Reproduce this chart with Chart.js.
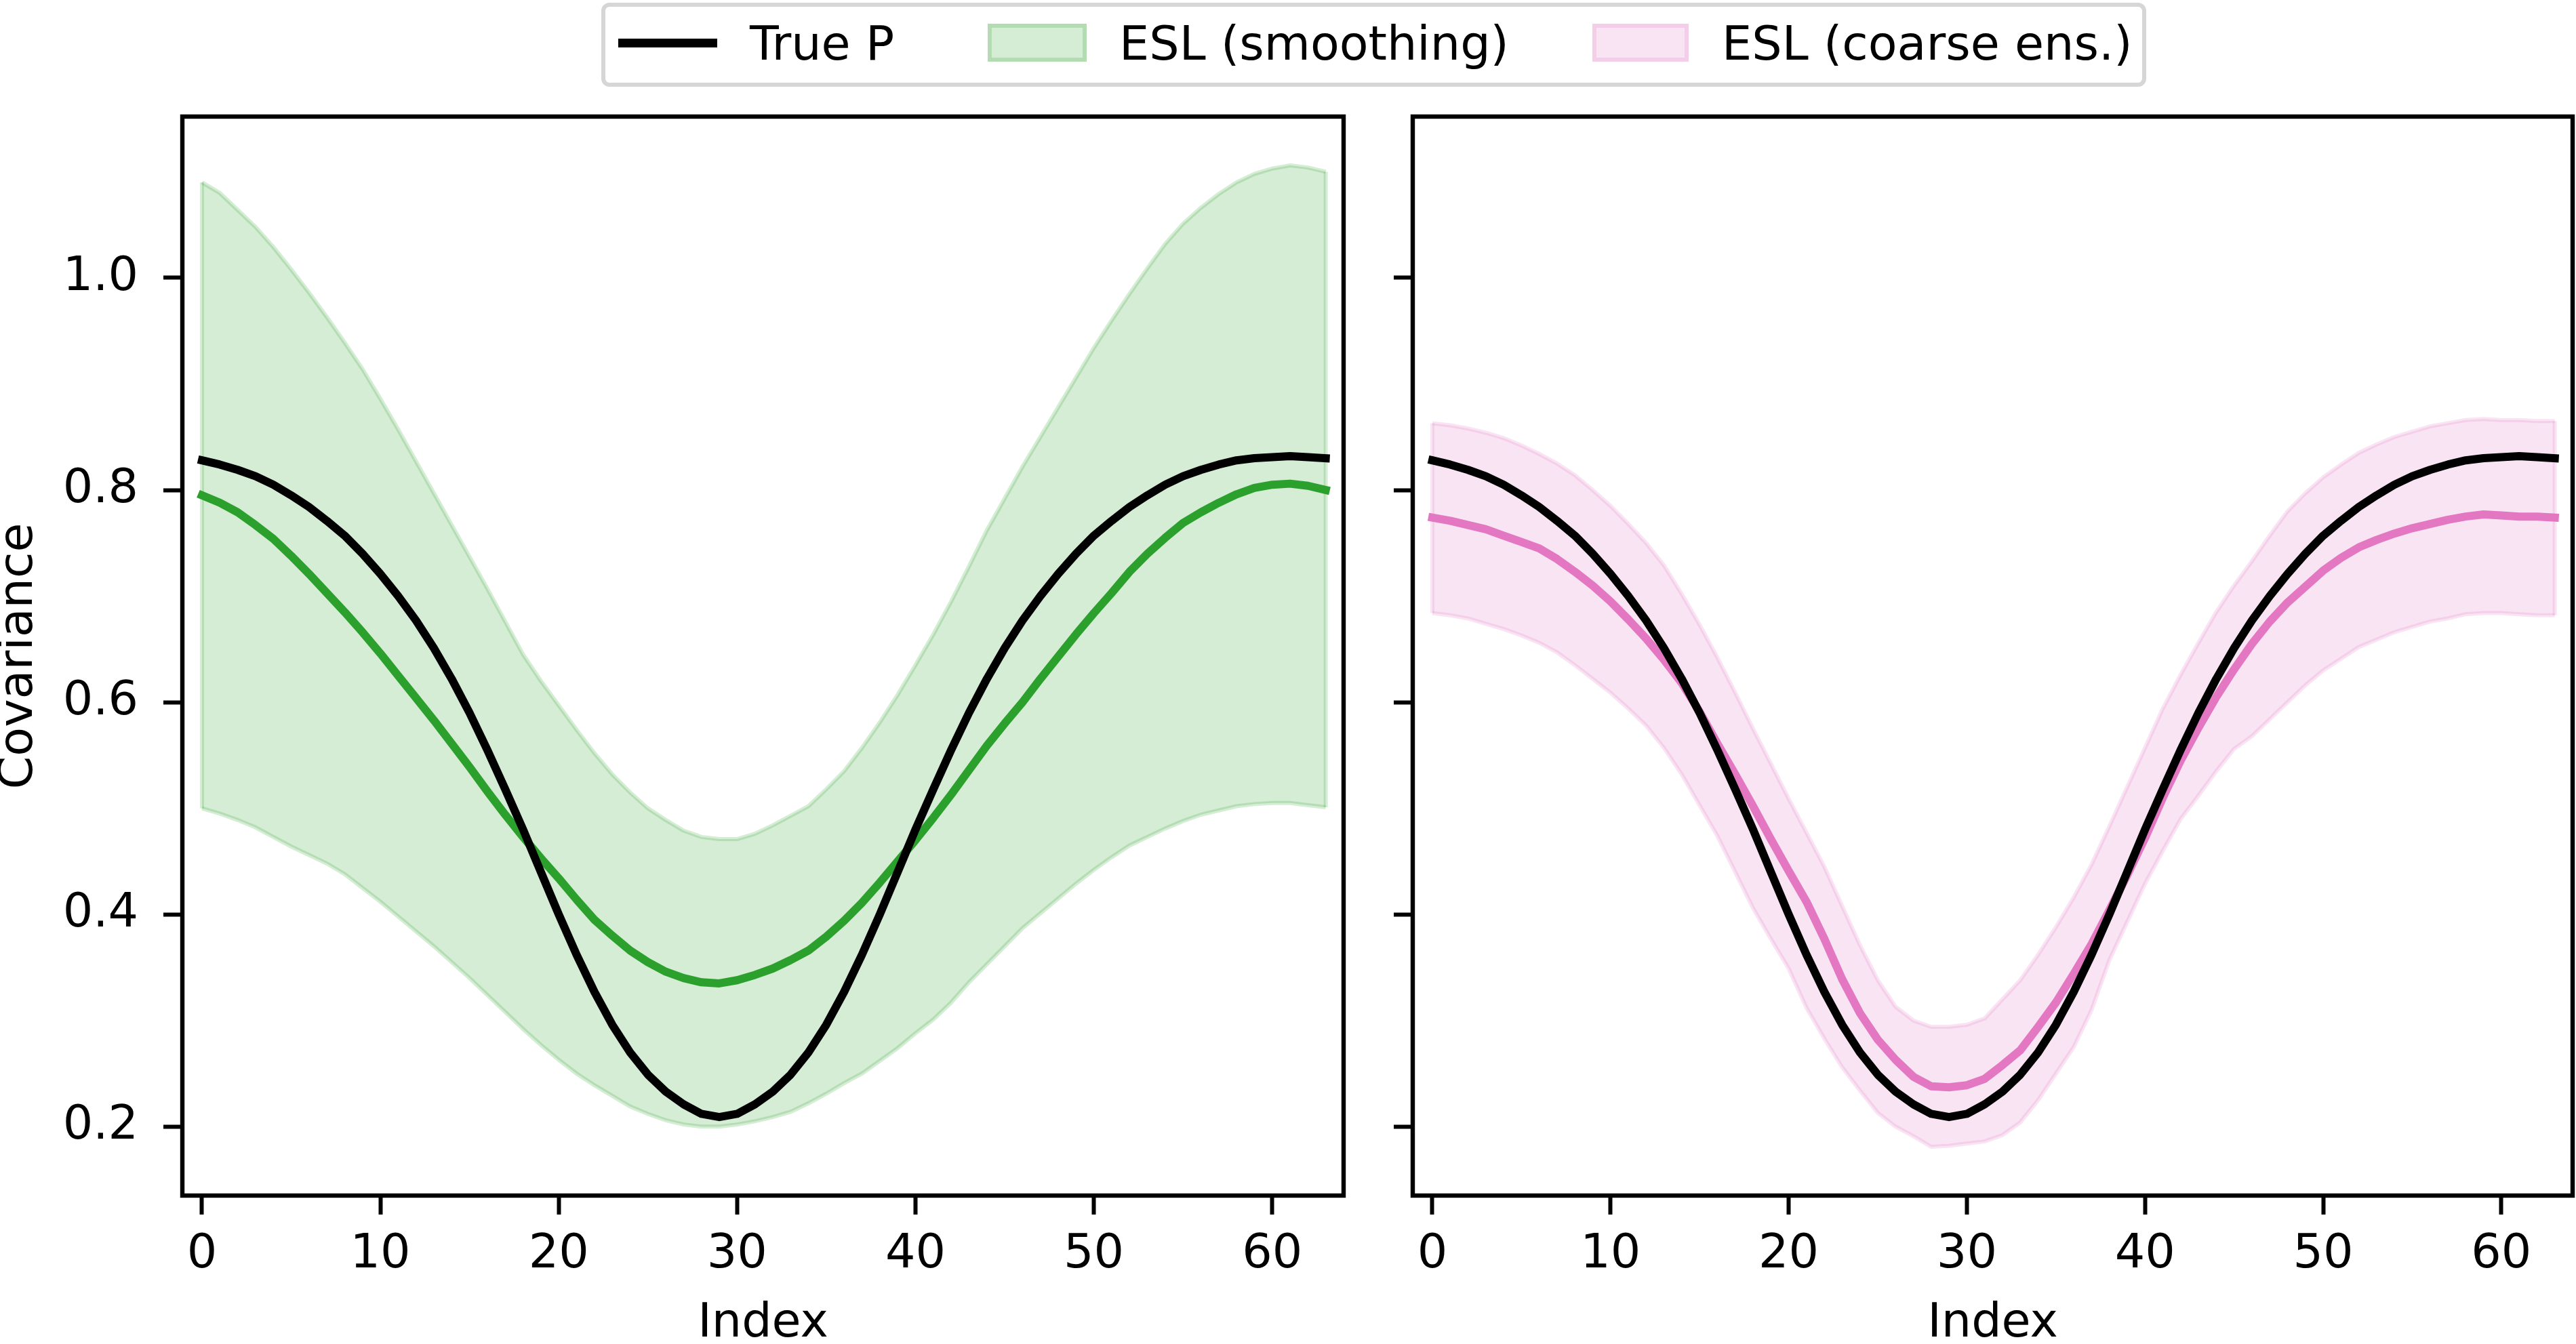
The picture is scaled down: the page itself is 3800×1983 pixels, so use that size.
<!DOCTYPE html>
<html>
<head>
<meta charset="utf-8">
<script src="https://cdn.jsdelivr.net/npm/chart.js@4.4.1/dist/chart.umd.min.js"></script>
<style>
  html, body { margin: 0; padding: 0; background: #fff; }
  body { width: 3800px; height: 1983px; position: relative; overflow: hidden; font-family: 'DejaVu Sans', sans-serif; }
  canvas { position: absolute; top: 0; }
  #legend { position: absolute; left: 887px; top: 4px; width: 2279px; height: 124px; box-sizing: border-box;
            border: 6px solid #d6d6d6; border-radius: 12px; background: #fff; }
  #legend div { position: absolute; }
  #legend .txt { top: 19px; font-size: 70px; line-height: 70px; white-space: nowrap; color: #000; }
</style>
</head>
<body>
<canvas id="left" width="2000" height="1983" style="left:0"></canvas>
<canvas id="right" width="1800" height="1983" style="left:2000px"></canvas>

<div id="legend">
  <div style="left:19px; top:47px; width:146px; height:13px; background:#000"></div>
  <div class="txt" style="left:213px">True P</div>
  <div style="left:564px; top:25px; width:146px; height:56px; box-sizing:border-box; background:rgba(44,160,44,0.2); border:6px solid rgba(44,160,44,0.2)"></div>
  <div class="txt" style="left:758px">ESL (smoothing)</div>
  <div style="left:1456px; top:25px; width:142px; height:56px; box-sizing:border-box; background:rgba(227,119,194,0.2); border:6px solid rgba(227,119,194,0.2)"></div>
  <div class="txt" style="left:1647px">ESL (coarse ens.)</div>
</div>

<script>
// grid index and ticks
const idx = [0,1,2,3,4,5,6,7,8,9,10,11,12,13,14,15,16,17,18,19,20,21,22,23,24,25,26,27,28,29,30,31,
             32,33,34,35,36,37,38,39,40,41,42,43,44,45,46,47,48,49,50,51,52,53,54,55,56,57,58,59,60,61,62,63];
const xTicks = [0, 10, 20, 30, 40, 50, 60];
const yTicks = [0.2, 0.4, 0.6, 0.8, 1.0];

// true covariance row
const trueP = [0.828,0.824,0.819,0.813,0.805,0.795,0.784,0.771,0.757,0.740,0.721,0.700,0.677,0.651,0.622,0.590,
               0.555,0.518,0.480,0.440,0.400,0.362,0.327,0.296,0.270,0.249,0.233,0.221,0.212,0.209,0.212,0.221,
               0.233,0.249,0.270,0.296,0.327,0.362,0.400,0.440,0.480,0.518,0.555,0.590,0.622,0.651,0.677,0.700,
               0.721,0.740,0.757,0.771,0.784,0.795,0.805,0.813,0.819,0.824,0.828,0.830,0.831,0.832,0.831,0.830];

// ESL smoothing: mean and band
const smoothMean = [0.795,0.788,0.779,0.767,0.754,0.738,0.721,0.703,0.685,0.666,0.646,0.625,0.604,0.583,0.561,0.539,
                    0.516,0.494,0.473,0.453,0.434,0.414,0.395,0.380,0.366,0.355,0.346,0.340,0.336,0.335,0.338,0.343,
                    0.349,0.357,0.366,0.379,0.394,0.411,0.430,0.450,0.470,0.491,0.513,0.536,0.559,0.580,0.600,0.622,
                    0.643,0.664,0.684,0.703,0.723,0.740,0.755,0.769,0.779,0.788,0.796,0.802,0.805,0.806,0.804,0.800];
const smoothUpper = [1.090,1.080,1.064,1.048,1.029,1.008,0.986,0.963,0.939,0.914,0.886,0.857,0.827,0.797,0.767,0.737,
                     0.707,0.676,0.645,0.620,0.597,0.574,0.552,0.532,0.515,0.500,0.489,0.479,0.473,0.471,0.471,0.476,
                     0.484,0.493,0.502,0.518,0.535,0.557,0.581,0.607,0.635,0.664,0.695,0.728,0.762,0.792,0.822,0.850,
                     0.878,0.906,0.934,0.960,0.985,1.009,1.032,1.051,1.066,1.079,1.090,1.098,1.103,1.106,1.104,1.100];
const smoothLower = [0.500,0.495,0.489,0.482,0.473,0.464,0.456,0.448,0.438,0.425,0.412,0.398,0.384,0.370,0.355,0.340,
                     0.324,0.308,0.292,0.277,0.263,0.250,0.239,0.229,0.219,0.212,0.206,0.202,0.200,0.200,0.202,0.205,
                     0.209,0.214,0.222,0.231,0.241,0.250,0.262,0.274,0.288,0.301,0.317,0.336,0.353,0.370,0.387,0.401,
                     0.415,0.429,0.442,0.454,0.465,0.473,0.481,0.488,0.494,0.498,0.502,0.504,0.505,0.505,0.503,0.501];

// ESL coarse ensemble: mean and band
const coarseMean = [0.774,0.771,0.767,0.763,0.757,0.751,0.745,0.735,0.723,0.710,0.695,0.678,0.660,0.640,0.618,0.591,
                    0.561,0.532,0.502,0.471,0.441,0.412,0.377,0.339,0.307,0.282,0.263,0.247,0.238,0.237,0.239,0.245,
                    0.258,0.272,0.294,0.317,0.344,0.372,0.404,0.437,0.472,0.510,0.545,0.576,0.605,0.631,0.655,0.676,
                    0.694,0.709,0.724,0.736,0.746,0.753,0.759,0.764,0.768,0.772,0.775,0.777,0.776,0.775,0.775,0.774];
const coarseUpper = [0.863,0.861,0.858,0.854,0.849,0.842,0.834,0.825,0.814,0.800,0.785,0.768,0.750,0.729,0.702,0.673,
                     0.642,0.609,0.575,0.542,0.509,0.477,0.445,0.408,0.371,0.338,0.313,0.300,0.294,0.294,0.296,0.302,
                     0.320,0.338,0.362,0.388,0.416,0.447,0.483,0.520,0.557,0.594,0.626,0.656,0.685,0.710,0.733,0.757,
                     0.780,0.797,0.812,0.824,0.835,0.843,0.850,0.855,0.860,0.863,0.866,0.867,0.866,0.866,0.865,0.865];
const coarseLower = [0.684,0.682,0.679,0.674,0.669,0.663,0.656,0.647,0.635,0.622,0.609,0.594,0.578,0.557,0.532,0.503,
                     0.474,0.440,0.406,0.377,0.349,0.312,0.283,0.256,0.234,0.213,0.200,0.191,0.181,0.182,0.184,0.186,
                     0.192,0.204,0.225,0.250,0.275,0.310,0.357,0.393,0.429,0.460,0.490,0.512,0.535,0.556,0.568,0.584,
                     0.600,0.616,0.630,0.641,0.652,0.659,0.666,0.671,0.676,0.679,0.683,0.684,0.684,0.683,0.682,0.682];

const FONT = "'DejaVu Sans', sans-serif";
const pts = arr => arr.map((v, i) => ({ x: idx[i], y: v }));
const last = idx.length - 1;

function line(data, color) {
    return { data: pts(data), borderColor: color, borderWidth: 12, pointRadius: 0, fill: false,
             tension: 0, borderCapStyle: 'square', borderJoinStyle: 'round' };
}

// fill_between look: face + edge in the same translucent colour
function band(upper, lower, rgba) {
    const edge = { borderColor: rgba, borderWidth: 6, pointRadius: 0, tension: 0 };
    return [
        Object.assign({ data: pts(upper), fill: '+1', backgroundColor: rgba }, edge),
        Object.assign({ data: pts(lower), fill: false }, edge),
        Object.assign({ data: [{ x: idx[0], y: lower[0] }, { x: idx[0], y: upper[0] }], fill: false }, edge),
        Object.assign({ data: [{ x: idx[last], y: lower[last] }, { x: idx[last], y: upper[last] }], fill: false }, edge)
    ];
}

const frame = {
    id: 'frame',
    afterDraw(chart) {
        const { ctx, chartArea: a } = chart;
        ctx.save();
        ctx.strokeStyle = '#000';
        ctx.lineWidth = 6.4;
        ctx.strokeRect(a.left, a.top, a.right - a.left, a.bottom - a.top);
        ctx.restore();
    }
};

const tickGrid = { display: true, drawOnChartArea: false, drawTicks: true, tickLength: 28, tickWidth: 6, tickColor: '#000' };

function makeChart(id, datasets, yWidth, padRight, showY) {
    new Chart(document.getElementById(id).getContext('2d'), {
        type: 'line',
        data: { datasets: datasets },
        options: {
            responsive: false,
            animation: false,
            devicePixelRatio: 1,
            layout: { padding: { left: 0, top: 172, right: padRight, bottom: 0 } },
            plugins: { legend: { display: false }, tooltip: { enabled: false } },
            scales: {
                x: {
                    type: 'linear', min: -1.1, max: 64,
                    afterBuildTicks: ax => { ax.ticks = xTicks.map(v => ({ value: v })); },
                    afterFit: ax => { ax.height = 219; },
                    grid: tickGrid,
                    border: { display: false },
                    ticks: { color: '#000', font: { family: FONT, size: 70 }, padding: 18,
                             autoSkip: false, maxRotation: 0, callback: v => String(v) },
                    title: { display: true, text: 'Index', color: '#000', padding: 0,
                             font: { family: FONT, size: 70, lineHeight: 0.83 } }
                },
                y: {
                    type: 'linear', min: 0.135, max: 1.152,
                    afterBuildTicks: ax => { ax.ticks = yTicks.map(v => ({ value: v })); },
                    afterFit: ax => { ax.width = yWidth; },
                    grid: tickGrid,
                    border: { display: false },
                    ticks: { color: '#000', font: { family: FONT, size: 70 }, padding: 37,
                             autoSkip: false, callback: v => showY ? v.toFixed(1) : '' },
                    title: { display: showY, text: 'Covariance', color: '#000', padding: 0,
                             font: { family: FONT, size: 70, lineHeight: 0.83 } }
                }
            }
        },
        plugins: [frame]
    });
}

makeChart('left',
    [line(trueP, '#000000'), line(smoothMean, '#2ca02c')].concat(band(smoothUpper, smoothLower, 'rgba(44,160,44,0.2)')),
    269, 18, true);
makeChart('right',
    [line(trueP, '#000000'), line(coarseMean, '#e377c2')].concat(band(coarseUpper, coarseLower, 'rgba(227,119,194,0.2)')),
    84, 5, false);
</script>
</body>
</html>
